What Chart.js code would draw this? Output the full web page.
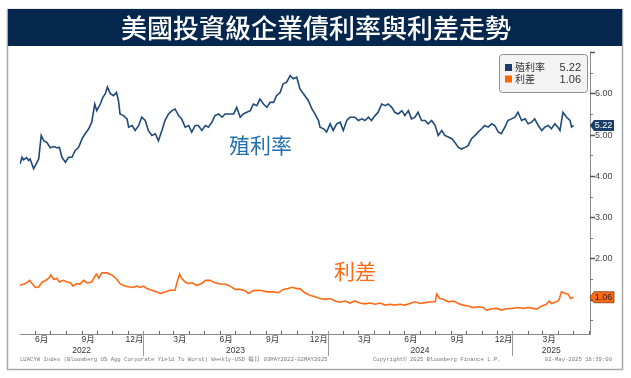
<!DOCTYPE html>
<html><head><meta charset="utf-8">
<script src="https://cdn.jsdelivr.net/npm/chart.js@4/dist/chart.umd.min.js"></script>
<style>html,body{margin:0;padding:0;background:#fff;}canvas{display:block;}</style>
</head><body>
<canvas id="c" width="631" height="378"></canvas>
<script>
// x values = days since 2022-01-01
const titleText = '美國投資級企業債利率與利差走勢';
const seriesNames = ['殖利率', '利差'];
const yieldDays = [121,125,128,134,138,141,148,153,158,163,168,174,181,188,194,199,204,211,217,224,230,237,244,250,257,263,269,273,280,285,290,294,300,306,312,316,319,326,333,336,343,349,356,362,369,375,382,389,395,402,408,415,422,428,435,441,448,455,461,468,474,481,488,494,501,507,514,521,527,537,544,550,557,563,570,577,583,590,596,603,610,616,623,629,636,642,649,656,662,669,675,
685,692,699,705,712,715,722,728,735,741,748,755,761,768,774,784,791,798,804,811,817,824,830,837,844,850,857,863,870,877,883,890,896,903,909,916,923,929,936,943,949,956,962,969,976,982,989,995,1002,1008,1015,1022,1028,1035,1041,1048,1055,1061,1068,1074,1081,1087,1094,1101,1107,1114,1121,1127,1134,1140,1147,1154,1160,1167,1173,1180,1186,1190,1196,1203,1210,1213,1217];
const yieldValues = [4.29,4.45,4.39,4.44,4.37,4.41,4.17,4.29,4.41,4.98,4.85,4.81,4.68,4.71,4.68,4.69,4.45,4.33,4.45,4.45,4.61,4.69,4.90,5.02,5.14,5.30,5.74,5.58,5.74,5.90,5.99,6.15,5.99,5.94,6.02,5.82,5.50,5.46,5.38,5.18,5.22,5.10,5.22,5.42,5.34,5.10,4.98,5.02,4.85,5.10,5.34,5.50,5.58,5.62,5.46,5.38,5.18,5.22,5.06,5.22,5.22,5.10,5.22,5.18,5.30,5.46,5.50,5.42,5.50,5.50,5.50,5.66,5.42,5.50,5.54,5.58,5.74,5.70,5.86,5.74,5.66,5.78,5.78,5.94,6.02,6.23,6.27,6.43,6.35,6.39,6.11,
5.94,5.82,5.62,5.50,5.34,5.18,5.14,5.06,5.26,5.10,5.26,5.30,5.10,5.34,5.42,5.42,5.34,5.38,5.34,5.42,5.34,5.46,5.54,5.74,5.70,5.74,5.66,5.54,5.50,5.58,5.46,5.58,5.38,5.42,5.54,5.34,5.34,5.26,5.34,5.22,4.98,5.10,4.98,4.94,4.90,4.81,4.69,4.65,4.69,4.73,4.90,4.98,5.06,5.14,5.22,5.18,5.26,5.22,5.06,5.02,5.18,5.34,5.38,5.42,5.54,5.34,5.38,5.26,5.30,5.38,5.22,5.10,5.18,5.22,5.14,5.26,5.18,5.10,5.54,5.42,5.34,5.18,5.22];
const spreadDays = [121,132,140,145,151,158,165,171,178,182,188,194,199,207,214,221,226,234,240,247,254,263,272,277,283,293,303,313,319,329,339,346,352,359,366,372,382,392,399,408,418,428,432,437,441,448,455,461,471,481,488,497,507,517,527,537,547,557,567,573,583,596,610,623,633,642,652,659,669,675,685,695,705,715,725,735,745,755,765,774,784,794,804,814,824,834,844,854,863,873,883,893,903,913,923,936,943,946,952,959,969,979,989,998,1008,1018,1028,1038,1045,1055,1065,1074,1084,1097,1107,1117,1127,1137,1144,1154,1163,1169,1173,1183,1188,1193,1200,1206,1211,1217];
const spreadValues = [1.35,1.39,1.47,1.39,1.30,1.31,1.43,1.46,1.52,1.60,1.49,1.52,1.43,1.47,1.43,1.41,1.33,1.39,1.38,1.47,1.41,1.43,1.62,1.52,1.65,1.65,1.60,1.49,1.39,1.33,1.31,1.30,1.33,1.30,1.33,1.27,1.23,1.19,1.15,1.19,1.23,1.23,1.43,1.62,1.52,1.43,1.39,1.41,1.35,1.39,1.47,1.47,1.41,1.38,1.38,1.33,1.25,1.25,1.22,1.15,1.22,1.23,1.19,1.19,1.17,1.25,1.27,1.30,1.27,1.27,1.17,1.11,1.07,1.03,1.01,1.03,0.97,0.94,0.97,0.92,0.97,0.92,0.90,0.92,0.89,0.92,0.87,0.89,0.87,0.89,0.87,0.91,0.95,0.91,0.93,0.95,0.95,1.14,1.03,1.01,0.95,0.97,0.91,0.87,0.85,0.81,0.83,0.81,0.75,0.78,0.79,0.75,0.78,0.79,0.81,0.79,0.81,0.79,0.77,0.85,0.89,0.97,0.91,0.95,0.99,1.19,1.15,1.14,1.03,1.06];
const lastValues = ['5.22', '1.06'];
const yTickValues = [7, 6, 5, 4, 3, 2, 1];
const yTickLabels = ['', '6.00', '5.00', '4.00', '3.00', '2.00', ''];
const monthLabelMonths = [3, 6, 9, 12];
const footerLeft = 'LUACYW Index (Bloomberg US Agg Corporate Yield To Worst) Weekly-USD 每日 03MAY2022-02MAY2025';
const footerMid = 'Copyright© 2025 Bloomberg Finance L.P.';
const footerRight = '02-May-2025 16:39:00';

const NAVY = '#1f4a78', ORANGE = '#ff6a17';
const dayOf = (y, m, d) => (Date.UTC(y, m - 1, d) - Date.UTC(2022, 0, 1)) / 86400000;
const X_MIN = 121, X_MAX = 1249.5;

const decor = {
  id: 'decor',
  afterDraw(chart) {
    const ctx = chart.ctx, xs = chart.scales.x, ys = chart.scales.y, a = chart.chartArea;
    ctx.save();
    // outer frame
    ctx.strokeStyle = '#a8a8a8'; ctx.lineWidth = 1.5;
    ctx.strokeRect(7.5, 9.5, 615, 360);
    // title bar
    ctx.fillStyle = '#05264d';
    ctx.fillRect(8, 9, 614, 37);
    ctx.fillStyle = '#ffffff';
    ctx.font = '500 26px "Noto Sans CJK TC"';
    ctx.textAlign = 'center'; ctx.textBaseline = 'middle';
    ctx.fillText(titleText, 316, 28);

    // axes lines
    ctx.strokeStyle = '#8a8a8a'; ctx.lineWidth = 1;
    ctx.beginPath();
    ctx.moveTo(a.right + 0.5, a.top); ctx.lineTo(a.right + 0.5, a.bottom + 0.5);
    ctx.moveTo(a.left, a.bottom + 0.5); ctx.lineTo(a.right + 0.5, a.bottom + 0.5);
    ctx.stroke();

    // y ticks
    ctx.font = '9px "Liberation Sans"'; ctx.textAlign = 'left'; ctx.textBaseline = 'middle';
    yTickValues.forEach((v, i) => {
      const y = Math.round(ys.getPixelForValue(v)) + 0.5;
      ctx.strokeStyle = '#555'; ctx.lineWidth = 1.5;
      ctx.beginPath(); ctx.moveTo(a.right, y); ctx.lineTo(a.right + 5, y); ctx.stroke();
      ctx.fillStyle = '#444';
      if (yTickLabels[i]) ctx.fillText(yTickLabels[i], a.right + 5, y + 0.5);
      const ym = Math.round(ys.getPixelForValue(v - 0.5)) + 0.5;
      if (v - 0.5 > ys.min) {
        ctx.strokeStyle = '#777'; ctx.lineWidth = 1;
        ctx.beginPath(); ctx.moveTo(a.right, ym); ctx.lineTo(a.right + 3, ym); ctx.stroke();
      }
    });

    // x month ticks & labels
    ctx.strokeStyle = '#666'; ctx.lineWidth = 1;
    ctx.font = '8.5px "Liberation Sans", "Noto Sans CJK TC"';
    ctx.textAlign = 'center'; ctx.textBaseline = 'middle'; ctx.fillStyle = '#333';
    for (let y = 2022; y <= 2025; y++) {
      for (let m = 1; m <= 12; m++) {
        const d = dayOf(y, m, 1);
        if (d >= X_MIN && d <= X_MAX) {
          const px = Math.round(xs.getPixelForValue(d)) + 0.5;
          ctx.beginPath(); ctx.moveTo(px, a.bottom - 3); ctx.lineTo(px, a.bottom); ctx.stroke();
        }
        if (monthLabelMonths.includes(m)) {
          const d2 = dayOf(m === 12 ? y + 1 : y, m === 12 ? 1 : m + 1, 1);
          const mid = (d + d2) / 2;
          if (mid > X_MIN && mid < X_MAX) ctx.fillText(m + '月', xs.getPixelForValue(mid) - 1, 340);
        }
      }
      const s = Math.max(dayOf(y, 1, 1), X_MIN), e = Math.min(dayOf(y + 1, 1, 1), X_MAX);
      ctx.fillText(String(y), xs.getPixelForValue((s + e) / 2), 351);
      if (y > 2022) {
        const px = Math.round(xs.getPixelForValue(dayOf(y, 1, 1))) + 0.5;
        ctx.strokeStyle = '#999';
        ctx.beginPath(); ctx.moveTo(px, a.bottom - 3); ctx.lineTo(px, 356); ctx.stroke();
        ctx.strokeStyle = '#666';
      }
    }

    // footer
    ctx.fillStyle = '#777'; ctx.font = '5.6px "Liberation Mono"'; ctx.textBaseline = 'middle';
    ctx.textAlign = 'left'; ctx.fillText(footerLeft, 20, 359.5);
    ctx.fillText(footerMid, 373, 359.5);
    ctx.textAlign = 'right'; ctx.fillText(footerRight, 612, 359.5);

    // last value tags
    const tag = (v, txt, fill, textColor, stroke) => {
      const yc = ys.getPixelForValue(v);
      const x0 = a.right, x1 = a.right + 24;
      ctx.beginPath();
      ctx.moveTo(x0, yc); ctx.lineTo(x0 + 4, yc - 5.5); ctx.lineTo(x1, yc - 5.5);
      ctx.lineTo(x1, yc + 5.5); ctx.lineTo(x0 + 4, yc + 5.5); ctx.closePath();
      ctx.fillStyle = fill; ctx.fill();
      if (stroke) { ctx.strokeStyle = stroke; ctx.lineWidth = 0.8; ctx.stroke(); }
      ctx.fillStyle = textColor; ctx.font = '9px "Liberation Sans"';
      ctx.textAlign = 'center'; ctx.textBaseline = 'middle';
      ctx.fillText(txt, x0 + 13.5, yc + 0.5);
    };
    tag(parseFloat(lastValues[0]), lastValues[0], '#1b3f6a', '#ffffff', null);
    tag(parseFloat(lastValues[1]), lastValues[1], '#ff6a13', '#222222', '#7a3a10');

    // legend box
    ctx.beginPath();
    ctx.roundRect(499.5, 54.5, 88, 38, 3);
    ctx.fillStyle = '#f3f3f3'; ctx.fill();
    ctx.strokeStyle = '#8f8f8f'; ctx.lineWidth = 1; ctx.stroke();
    const rows = [[NAVY, 67.5], [ORANGE, 79]];
    rows.forEach(([c, y], i) => {
      ctx.fillStyle = i === 0 ? '#1d3d66' : '#ff6600';
      ctx.fillRect(505, y - 3.5, 7, 7);
      ctx.fillStyle = '#333';
      ctx.font = '10px "Noto Sans CJK TC"'; ctx.textAlign = 'left'; ctx.textBaseline = 'middle';
      ctx.fillText(seriesNames[i], 515, y);
      ctx.font = '11px "Liberation Sans"'; ctx.textAlign = 'right';
      ctx.fillText(lastValues[i], 581, y + 0.5);
    });

    // in-chart annotations
    ctx.font = '21px "Noto Sans CJK TC"'; ctx.textAlign = 'center'; ctx.textBaseline = 'middle';
    ctx.fillStyle = '#2370b0';
    ctx.fillText(seriesNames[0], 260.5, 145);
    ctx.fillStyle = '#ff6a13';
    ctx.fillText(seriesNames[1], 355, 271);
    ctx.restore();
  }
};

new Chart(document.getElementById('c'), {
  type: 'line',
  data: {
    datasets: [
      { label: seriesNames[0], data: yieldDays.map((d, i) => ({ x: d, y: yieldValues[i] })), borderColor: NAVY, borderWidth: 1.6, pointRadius: 0, tension: 0 },
      { label: seriesNames[1], data: spreadDays.map((d, i) => ({ x: d, y: spreadValues[i] })), borderColor: ORANGE, borderWidth: 1.6, pointRadius: 0, tension: 0 }
    ]
  },
  options: {
    responsive: false, animation: false, devicePixelRatio: 1,
    layout: { padding: { left: 20, right: 41, top: 52, bottom: 44 } },
    plugins: { legend: { display: false }, tooltip: { enabled: false } },
    scales: {
      x: { type: 'linear', min: X_MIN, max: X_MAX, display: false },
      y: { type: 'linear', min: 0.17, max: 7.0, display: false }
    }
  },
  plugins: [decor]
});
</script>
</body></html>
